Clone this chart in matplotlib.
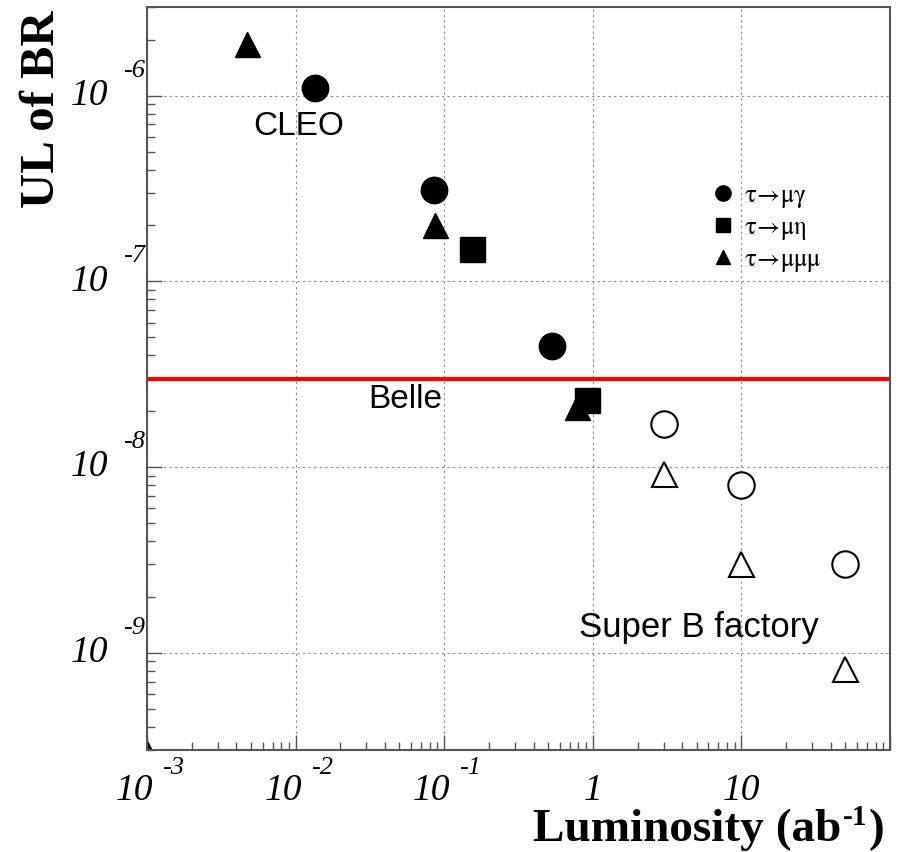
import matplotlib
matplotlib.use('Agg')
import matplotlib.pyplot as plt
from matplotlib.lines import Line2D
from matplotlib.ticker import LogLocator, NullFormatter

# measured upper limits (filled) and super B projections (open)
mugamma_lumi = [0.0136, 0.086, 0.535]
mugamma_ul = [1.1e-6, 3.1e-7, 4.5e-8]
mueta_lumi = [0.154, 0.92]
mueta_ul = [1.5e-7, 2.3e-8]
mumumu_lumi = [0.0047, 0.087, 0.78]
mumumu_ul = [1.9e-6, 2.0e-7, 2.1e-8]
corner_lumi = [1e-3]
corner_ul = [2.9e-10]

superb_lumi = [3, 10, 50]
superb_mugamma = [1.7e-8, 8e-9, 3.0e-9]
superb_mumumu = [9.2e-9, 3.0e-9, 8.2e-10]

belle_line = 3.0e-8

x_decades = [1e-3, 1e-2, 1e-1, 1, 10]
x_exps = ['-3', '-2', '-1', None, None]
x_plain = [None, None, None, '1', '10']
y_decades = [1e-6, 1e-7, 1e-8, 1e-9]
y_exps = ['-6', '-7', '-8', '-9']

legend_labels = [r'$\mathrm{\tau\!\rightarrow\!\mu\gamma}$',
                 r'$\mathrm{\tau\!\rightarrow\!\mu\eta}$',
                 r'$\mathrm{\tau\!\rightarrow\!\mu\mu\mu}$']

serif = ['Liberation Serif', 'DejaVu Serif']
sans = ['Liberation Sans', 'DejaVu Sans']

fig = plt.figure(figsize=(9, 8.52), dpi=100)
ax = fig.add_axes([0.1633, 0.1197, 0.8256, 0.8721])
ax.set_xscale('log')
ax.set_yscale('log')
ax.set_xlim(1e-3, 100)
ax.set_ylim(3e-10, 3e-6)

ms = 18
ax.plot(mugamma_lumi, mugamma_ul, 'o', color='black', ms=ms + 1)
ax.plot(mueta_lumi, mueta_ul, 's', color='black', ms=ms)
ax.plot(mumumu_lumi, mumumu_ul, '^', color='black', ms=ms)
ax.plot(corner_lumi, corner_ul, '^', color='black', ms=ms)
ax.plot(superb_lumi, superb_mugamma, 'o', mfc='white', mec='black', mew=1.5, ms=ms + 1)
ax.plot(superb_lumi, superb_mumumu, '^', mfc='white', mec='black', mew=1.5, ms=ms)

ax.axhline(belle_line, color='#ff0000', lw=3)

ax.text(0.0105, 6.8e-7, 'CLEO', family=sans, fontsize=24, ha='center', va='center')
ax.text(0.055, 2.3e-8, 'Belle', family=sans, fontsize=24, ha='center', va='center')
ax.text(5.2, 1.37e-9, 'Super B factory', family=sans, fontsize=25, ha='center', va='center')

# grid and ticks, ROOT style
ax.grid(True, which='major', color='#888888', lw=0.8, ls=(0, (2, 3)))
ax.xaxis.set_major_locator(LogLocator(base=10, numticks=10))
ax.xaxis.set_minor_locator(LogLocator(base=10, subs=range(2, 10), numticks=20))
ax.yaxis.set_major_locator(LogLocator(base=10, numticks=10))
ax.yaxis.set_minor_locator(LogLocator(base=10, subs=range(2, 10), numticks=20))
for axis in (ax.xaxis, ax.yaxis):
    axis.set_major_formatter(NullFormatter())
    axis.set_minor_formatter(NullFormatter())
ax.tick_params(which='both', direction='in', top=False, right=False, color='#555555')
ax.tick_params(which='major', length=11, width=1)
ax.tick_params(which='minor', length=6, width=1)
for s in ax.spines.values():
    s.set_color('#555555')
    s.set_linewidth(1.5)

# tick labels: "10" with a detached exponent
for v, e, p in zip(x_decades, x_exps, x_plain):
    if e is not None:
        ax.annotate('10', (v, 0), xycoords=('data', 'axes fraction'), xytext=(-9, -29),
                    textcoords='offset points', ha='center', va='center',
                    family=serif, style='italic', fontsize=27)
        ax.annotate(e, (v, 0), xycoords=('data', 'axes fraction'), xytext=(11, -13),
                    textcoords='offset points', ha='left', va='center',
                    family=serif, style='italic', fontsize=19)
    else:
        ax.annotate(p, (v, 0), xycoords=('data', 'axes fraction'), xytext=(0, -29),
                    textcoords='offset points', ha='center', va='center',
                    family=serif, style='italic', fontsize=27)
for v, e in zip(y_decades, y_exps):
    ax.annotate('10', (0, v), xycoords=('axes fraction', 'data'), xytext=(-28, 0),
                textcoords='offset points', ha='right', va='center',
                family=serif, style='italic', fontsize=27)
    ax.annotate(e, (0, v), xycoords=('axes fraction', 'data'), xytext=(-1.5, 18),
                textcoords='offset points', ha='right', va='center',
                family=serif, style='italic', fontsize=19)

fig.text(20 / 900, 1 - 10 / 852, 'UL of BR', family=serif, weight='bold', fontsize=35,
         rotation=90, ha='left', va='top')

# x title built from pieces so the superscript keeps a short hyphen
xt = fig.text(533 / 900, 1 - 841 / 852, 'Luminosity (ab', family=serif, weight='bold',
              fontsize=34, ha='left', va='baseline')
sup = fig.add_artist(matplotlib.text.Annotation(
    '-1', (1, 1), xycoords=xt, xytext=(1, -12), textcoords='offset points',
    ha='left', va='baseline', family=serif, weight='bold', fontsize=21,
    annotation_clip=False))
fig.add_artist(matplotlib.text.Annotation(
    ')', (1, 0), xycoords=(sup, xt), xytext=(1, 0), textcoords='offset points',
    ha='left', va='bottom', family=serif, weight='bold', fontsize=34,
    annotation_clip=False))

handles = [
    Line2D([], [], marker='o', ls='none', color='black', ms=11),
    Line2D([], [], marker='s', ls='none', color='black', ms=10),
    Line2D([], [], marker='^', ls='none', color='black', ms=10),
]
leg = ax.legend(handles, legend_labels, loc='upper left',
                bbox_to_anchor=(698 / 900, 1 - 172 / 852),
                bbox_transform=fig.transFigure, frameon=False, handlelength=1.0,
                handletextpad=0.35, labelspacing=0.25, borderpad=0,
                prop={'family': serif, 'size': 18, 'math_fontfamily': 'stix'})

fig.savefig('out.png', dpi=100)
